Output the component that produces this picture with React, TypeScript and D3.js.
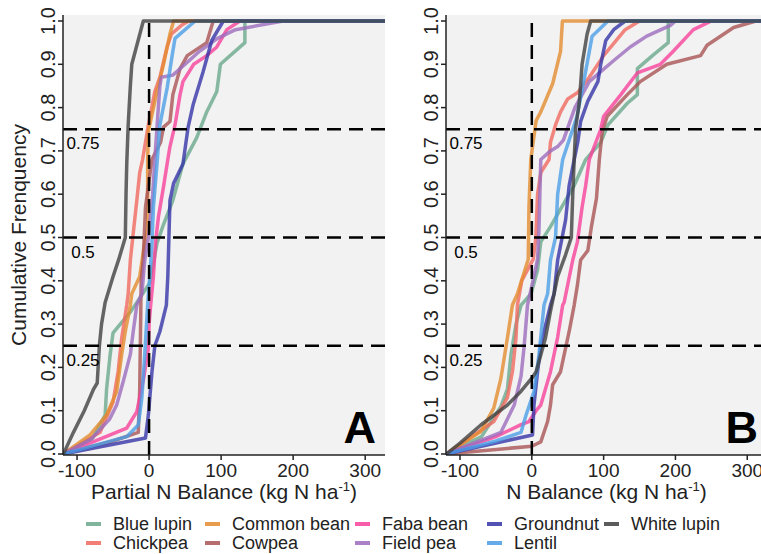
import React, { useEffect, useRef } from "react";
import * as d3 from "d3";

const species = ["Blue lupin", "Chickpea", "Common bean", "Cowpea", "Faba bean", "Field pea", "Groundnut", "Lentil", "White lupin"];
const colors = ["#6aa88c", "#f0695f", "#e38c2f", "#a95454", "#f7419b", "#9c6cbd", "#3434a8", "#4b9de6", "#404040"];

// [N balance (kg N/ha), cumulative frequency]
// panel A - partial N balance
const blueLupinA = [[-119, 0], [-78, 0.037], [-61, 0.09], [-59, 0.15], [-54, 0.23], [-50, 0.28], [-25, 0.33], [1, 0.395], [6, 0.44], [11, 0.487], [20, 0.53], [33, 0.586], [47, 0.67], [66, 0.73], [80, 0.79], [94, 0.837], [99, 0.9], [133, 0.95], [133, 1]];
const chickpeaA = [[-119, 0], [-68, 0.05], [-50, 0.12], [-43, 0.19], [-38, 0.268], [-31, 0.344], [-29, 0.37], [-26, 0.448], [-21, 0.525], [-17, 0.586], [-13, 0.65], [-9, 0.68], [-1, 0.76], [8, 0.837], [15, 0.87], [25, 0.94], [31, 0.97], [45, 0.99], [55, 1]];
const commonBeanA = [[-119, 0], [-82, 0.044], [-59, 0.09], [-45, 0.144], [-38, 0.23], [-33, 0.283], [-26, 0.344], [-24, 0.37], [-13, 0.41], [-6, 0.49], [-2, 0.52], [-2, 0.68], [-1, 0.745], [4, 0.783], [11, 0.837], [20, 0.9], [29, 0.97], [34, 1]];
const cowpeaA = [[-119, 0], [-50, 0.03], [-15, 0.05], [-13, 0.15], [-12, 0.27], [-11, 0.4], [-8, 0.45], [-5, 0.57], [4, 0.68], [16, 0.72], [20, 0.755], [29, 0.768], [33, 0.83], [43, 0.89], [53, 0.92], [80, 0.95], [89, 1]];
const fabaBeanA = [[-119, 0], [-54, 0.044], [-31, 0.06], [-17, 0.098], [-8, 0.17], [-1, 0.244], [0, 0.3], [2, 0.34], [6, 0.41], [9, 0.49], [13, 0.548], [20, 0.617], [26, 0.68], [29, 0.71], [36, 0.76], [43, 0.83], [47, 0.86], [62, 0.9], [80, 0.92], [94, 0.94], [108, 0.98], [126, 1]];
const fieldPeaA = [[-119, 0], [-80, 0.035], [-55, 0.08], [-45, 0.113], [-36, 0.167], [-26, 0.23], [-22, 0.283], [-17, 0.344], [-10, 0.37], [-6, 0.448], [-1, 0.5], [5, 0.6], [8, 0.68], [12, 0.78], [15, 0.85], [17, 0.87], [33, 0.875], [50, 0.9], [70, 0.93], [95, 0.96], [120, 0.98], [186, 1]];
const groundnutA = [[-119, 0], [-5, 0.037], [-1, 0.09], [4, 0.19], [8, 0.25], [15, 0.283], [24, 0.344], [26, 0.41], [29, 0.586], [34, 0.625], [47, 0.67], [54, 0.753], [61, 0.806], [75, 0.883], [87, 0.955], [103, 1]];
const lentilA = [[-119, 0], [-31, 0.04], [-15, 0.067], [-10, 0.13], [-6, 0.23], [-2, 0.344], [1, 0.41], [4, 0.49], [6, 0.57], [11, 0.67], [15, 0.76], [25, 0.845], [32, 0.92], [36, 0.96], [50, 0.98], [64, 1]];
const whiteLupinA = [[-119, 0], [-105, 0.05], [-90, 0.1], [-77, 0.15], [-72, 0.164], [-69, 0.25], [-66, 0.3], [-61, 0.35], [-50, 0.41], [-42, 0.45], [-33, 0.5], [-32, 0.6], [-31, 0.67], [-29, 0.76], [-26, 0.85], [-24, 0.9], [-8, 1]];

// panel B - N balance
const blueLupinB = [[-119, 0], [-70, 0.04], [-43, 0.11], [-34, 0.15], [-29, 0.23], [-22, 0.3], [-15, 0.344], [-1, 0.37], [8, 0.425], [12.5, 0.49], [26, 0.525], [45, 0.58], [59, 0.62], [75, 0.68], [96, 0.72], [106, 0.76], [133, 0.81], [147, 0.83], [147, 0.89], [168, 0.92], [190, 0.95], [190, 1]];
const chickpeaB = [[-119, 0], [-53, 0.075], [-34, 0.13], [-27, 0.19], [-22, 0.268], [-20, 0.344], [-14, 0.4], [2, 0.45], [5.6, 0.5], [8, 0.6], [12.5, 0.65], [24, 0.68], [26, 0.72], [33, 0.76], [40, 0.79], [50, 0.82], [64, 0.835], [80, 0.87], [100, 0.92], [115, 0.95], [130, 0.98], [150, 1]];
const commonBeanB = [[-119, 0], [-71, 0.052], [-53, 0.106], [-43, 0.175], [-34, 0.268], [-27, 0.344], [-20, 0.37], [-5, 0.45], [-4, 0.57], [-1.4, 0.68], [6, 0.77], [12.5, 0.79], [29, 0.855], [40, 0.93], [42.6, 1]];
const cowpeaB = [[-119, 0], [0, 0.018], [12.5, 0.028], [22, 0.075], [26, 0.113], [29, 0.16], [40, 0.19], [52, 0.283], [59, 0.344], [63.5, 0.39], [68, 0.448], [78, 0.47], [83, 0.525], [90, 0.59], [94, 0.68], [98, 0.745], [105, 0.78], [133, 0.83], [151, 0.86], [188, 0.9], [235, 0.92], [244, 0.944], [281, 0.985], [312, 1]];
const fabaBeanB = [[-119, 0], [-50, 0.04], [-15, 0.068], [-4, 0.075], [6, 0.1], [12.5, 0.113], [26, 0.19], [36, 0.27], [43, 0.344], [45, 0.35], [57, 0.448], [63.5, 0.49], [70, 0.57], [75, 0.62], [80, 0.68], [96, 0.75], [100, 0.78], [124, 0.83], [133, 0.85], [147, 0.88], [179, 0.9], [197, 0.93], [225, 0.98], [250, 1]];
const fieldPeaB = [[-119, 0], [-43, 0.05], [-24.5, 0.113], [-15, 0.18], [-10.6, 0.25], [-6, 0.344], [3, 0.41], [8, 0.45], [10, 0.52], [12.5, 0.68], [26, 0.7], [36, 0.71], [44, 0.725], [60, 0.8], [80, 0.86], [96, 0.883], [115, 0.91], [137, 0.94], [160, 0.965], [193, 0.99], [200, 1]];
const groundnutB = [[-119, 0], [1, 0.044], [3, 0.113], [8, 0.19], [12.5, 0.25], [17, 0.283], [26, 0.344], [31, 0.37], [36, 0.448], [47, 0.54], [52, 0.62], [59, 0.68], [64, 0.72], [68, 0.768], [78, 0.815], [92, 0.86], [96, 0.9], [103, 0.955], [114, 0.98], [130, 1]];
const lentilB = [[-119, 0], [-50, 0.03], [-15, 0.05], [-8, 0.09], [3, 0.144], [10, 0.23], [17, 0.344], [22, 0.37], [26, 0.448], [33, 0.5], [36, 0.6], [43, 0.68], [47, 0.7], [63, 0.78], [74, 0.875], [84, 0.965], [106, 1]];
const whiteLupinB = [[-119, 0], [-100, 0.025], [-71, 0.067], [-34, 0.113], [-15, 0.145], [0, 0.175], [6, 0.19], [19, 0.268], [26, 0.33], [36, 0.41], [47, 0.46], [55, 0.5], [57, 0.6], [59, 0.68], [61, 0.753], [66, 0.81], [70, 0.9], [77, 0.97], [82, 1]];

const seriesA = [blueLupinA, chickpeaA, commonBeanA, cowpeaA, fabaBeanA, fieldPeaA, groundnutA, lentilA, whiteLupinA];
const seriesB = [blueLupinB, chickpeaB, commonBeanB, cowpeaB, fabaBeanB, fieldPeaB, groundnutB, lentilB, whiteLupinB];

const xTicks = [-100, 0, 100, 200, 300];
const yTicks = [0, 0.1, 0.2, 0.3, 0.4, 0.5, 0.6, 0.7, 0.8, 0.9, 1.0];
const refLevels = [0.25, 0.5, 0.75];
const refLabels = ["0.25", "0.5", "0.75"];

const FONT = "'Liberation Sans', Arial, Helvetica, sans-serif";

const App = () => {
    const ref = useRef<SVGSVGElement>(null);

    useEffect(() => {
        const svg = d3.select(ref.current);
        svg.selectAll("*").remove();

        const top = 15;
        const bottom = 455;
        const y = d3.scaleLinear().domain([0, 1]).range([454, 21]);
        const xMin = -119.5;
        const xMax = 327.5;

        const panels = [
            { left: 63, right: 385, series: seriesA, letter: "A", title: "Partial N Balance (kg N ha" },
            { left: 446, right: 767, series: seriesB, letter: "B", title: "N Balance (kg N ha" },
        ];

        panels.forEach((p, pi) => {
            const x = d3.scaleLinear().domain([xMin, xMax]).range([p.left, p.right]);
            const g = svg.append("g");

            g.append("rect")
                .attr("x", p.left)
                .attr("y", top)
                .attr("width", p.right - p.left)
                .attr("height", bottom - top)
                .attr("fill", "#f2f2f2");

            const clipId = "clip" + pi;
            svg.append("clipPath")
                .attr("id", clipId)
                .append("rect")
                .attr("x", p.left)
                .attr("y", top)
                .attr("width", p.right - p.left)
                .attr("height", bottom - top);

            const line = d3
                .line<number[]>()
                .x((d) => x(d[0]))
                .y((d) => y(d[1]));

            const lines = g.append("g").attr("clip-path", `url(#${clipId})`);
            p.series.forEach((s, i) => {
                lines
                    .append("path")
                    .datum([...s, [xMax, 1]])
                    .attr("fill", "none")
                    .attr("stroke", colors[i])
                    .attr("stroke-width", 3.5)
                    .attr("stroke-linejoin", "round")
                    .attr("opacity", 0.8)
                    .attr("d", line);
            });

            // dashed reference lines
            refLevels.forEach((lv, i) => {
                lines
                    .append("line")
                    .attr("x1", p.left)
                    .attr("x2", p.right)
                    .attr("y1", y(lv))
                    .attr("y2", y(lv))
                    .attr("stroke", "#000")
                    .attr("stroke-width", 2.5)
                    .attr("stroke-dasharray", "14,8");
                g.append("text")
                    .attr("x", p.left + 20)
                    .attr("y", y(lv) + 20)
                    .attr("text-anchor", "middle")
                    .style("font-family", FONT)
                    .style("font-size", "17px")
                    .text(refLabels[i]);
            });
            lines
                .append("line")
                .attr("x1", x(0))
                .attr("x2", x(0))
                .attr("y1", bottom)
                .attr("y2", top)
                .attr("stroke", "#000")
                .attr("stroke-width", 2.5)
                .attr("stroke-dasharray", "14,8");

            // axes
            g.append("line")
                .attr("x1", p.left)
                .attr("x2", p.left)
                .attr("y1", top)
                .attr("y2", bottom)
                .attr("stroke", "#222")
                .attr("stroke-width", 1.5);
            g.append("line")
                .attr("x1", p.left)
                .attr("x2", p.right)
                .attr("y1", bottom)
                .attr("y2", bottom)
                .attr("stroke", "#222")
                .attr("stroke-width", 1.5);

            yTicks.forEach((t) => {
                g.append("line")
                    .attr("x1", p.left - 5)
                    .attr("x2", p.left)
                    .attr("y1", y(t))
                    .attr("y2", y(t))
                    .attr("stroke", "#222")
                    .attr("stroke-width", 1.5);
                g.append("text")
                    .attr("transform", `translate(${p.left - 8},${y(t)}) rotate(-90)`)
                    .attr("text-anchor", "middle")
                    .style("font-family", FONT)
                    .style("font-size", "20px")
                    .style("fill", "#222")
                    .text(d3.format(".1f")(t));
            });

            xTicks.forEach((t) => {
                g.append("line")
                    .attr("x1", x(t))
                    .attr("x2", x(t))
                    .attr("y1", bottom)
                    .attr("y2", bottom + 5)
                    .attr("stroke", "#222")
                    .attr("stroke-width", 1.5);
                g.append("text")
                    .attr("x", x(t))
                    .attr("y", 477)
                    .attr("text-anchor", "middle")
                    .style("font-family", FONT)
                    .style("font-size", "19px")
                    .style("fill", "#222")
                    .text(t < 0 ? "-" + Math.abs(t) : String(t));
            });

            const title = g
                .append("text")
                .attr("x", (p.left + p.right) / 2)
                .attr("y", 499)
                .attr("text-anchor", "middle")
                .style("font-family", FONT)
                .style("font-size", "21px")
                .style("fill", "#222");
            title.append("tspan").text(p.title);
            title.append("tspan").attr("dy", -8).style("font-size", "13px").text("-1");
            title.append("tspan").attr("dy", 8).text(")");

            g.append("text")
                .attr("x", p.right - 9)
                .attr("y", 443)
                .attr("text-anchor", "end")
                .style("font-family", FONT)
                .style("font-size", "45px")
                .style("font-weight", "bold")
                .text(p.letter);
        });

        svg.append("text")
            .attr("transform", `translate(26,${(top + bottom) / 2}) rotate(-90)`)
            .attr("text-anchor", "middle")
            .style("font-family", FONT)
            .style("font-size", "21px")
            .style("fill", "#222")
            .text("Cumulative Frenquency");

        // legend, filled column by column
        const colX = [113, 232, 382, 514, 631];
        const rowY = [530, 549];
        species.forEach((name, i) => {
            const cx = colX[Math.floor(i / 2)];
            const cy = rowY[i % 2];
            svg.append("line")
                .attr("x1", cx - 27)
                .attr("x2", cx - 12)
                .attr("y1", cy - 6)
                .attr("y2", cy - 6)
                .attr("stroke", colors[i])
                .attr("stroke-width", 4)
                .attr("opacity", 0.85);
            svg.append("text")
                .attr("x", cx)
                .attr("y", cy)
                .style("font-family", FONT)
                .style("font-size", "18px")
                .style("fill", "#222")
                .text(name);
        });
    }, []);

    return (
        <svg
            ref={ref}
            width={761}
            height={554}
            style={{ position: "absolute", left: 0, top: 0, background: "#fff" }}
        />
    );
};

export default App;
